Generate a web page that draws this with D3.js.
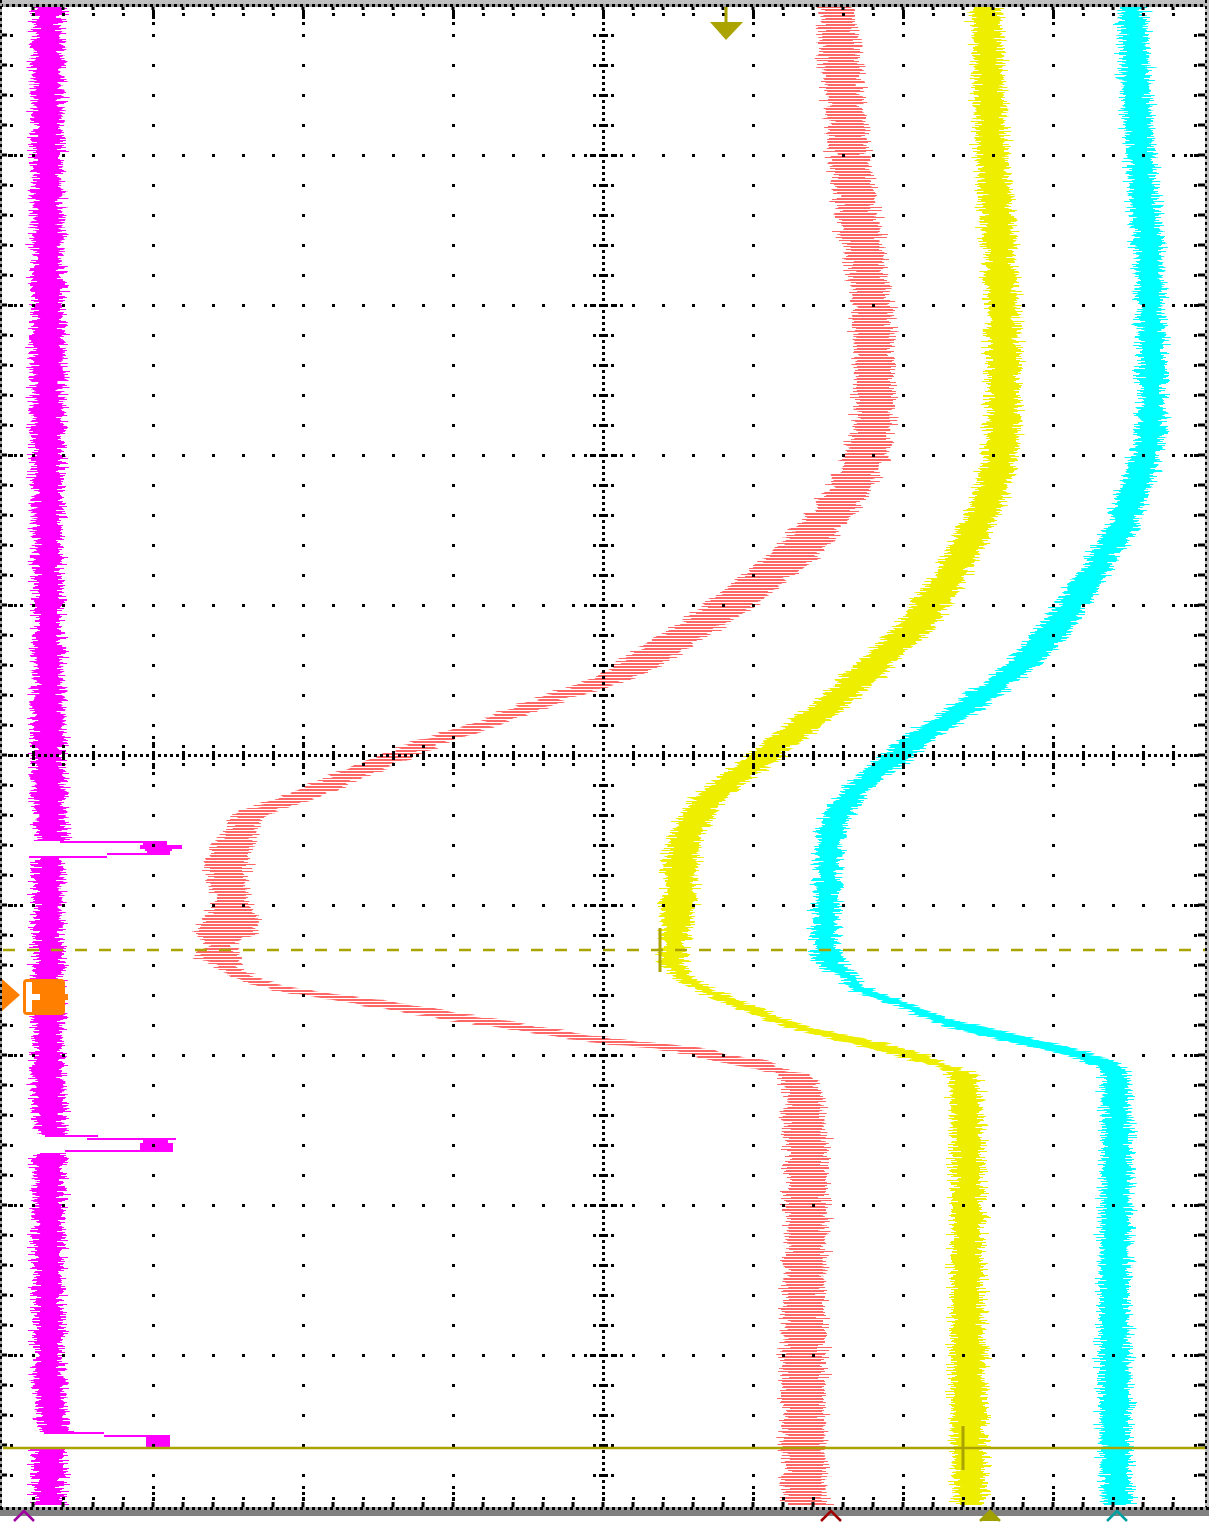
<!DOCTYPE html>
<html>
<head>
<meta charset="utf-8">
<script src="https://cdn.jsdelivr.net/npm/d3@7"></script>
<style>
html, body { margin: 0; padding: 0; background: #fff; overflow: hidden; }
</style>
</head>
<body>
<div id="scope"></div>
<script>
// record is 1500 points down the screen (10 div), level is 1200 steps across (8 div)

// salmon trace (ch2) : time, min level, max level
var salmonT  = [0, 45, 95, 145, 195, 245, 295, 345, 395, 435, 465, 495, 525, 555, 585, 615, 645, 675, 695, 715, 735, 755, 775, 795, 808, 828, 845, 865, 895, 915, 930, 940, 948, 960, 970, 980, 988, 998, 1010, 1020, 1032, 1038, 1042, 1050, 1057, 1063, 1070, 1085, 1145, 1195, 1295, 1395, 1500];
var salmonLo = [817, 819, 823, 827, 833, 842, 849, 852, 853, 847, 835, 817, 790, 759, 721, 681, 633, 585, 528, 478, 418, 366, 318, 271, 235, 222, 207, 204, 212, 200, 194, 202, 190, 209, 225, 252, 284, 347, 417, 477, 557, 592, 637, 687, 714, 747, 777, 782, 783, 783, 781, 780, 782];
var salmonHi = [849, 855, 859, 865, 871, 879, 887, 890, 890, 887, 877, 859, 837, 810, 771, 729, 681, 626, 561, 511, 451, 401, 353, 306, 269, 252, 249, 244, 245, 254, 249, 229, 235, 237, 249, 277, 327, 397, 467, 527, 602, 652, 692, 724, 767, 777, 804, 817, 823, 823, 821, 821, 823];

// yellow trace (ch3)
var yellowT  = [0, 45, 95, 145, 195, 245, 295, 345, 395, 445, 475, 505, 535, 565, 595, 625, 645, 675, 695, 715, 735, 755, 775, 795, 815, 835, 865, 895, 930, 955, 963, 975, 985, 995, 1005, 1015, 1025, 1035, 1043, 1053, 1060, 1067, 1075, 1145, 1295, 1395, 1500];
var yellowLo = [969, 971, 972, 974, 977, 981, 984, 985, 985, 982, 975, 965, 950, 934, 913, 890, 869, 837, 814, 789, 764, 739, 712, 690, 676, 667, 662, 660, 659, 657, 665, 674, 694, 714, 740, 764, 794, 835, 865, 902, 927, 944, 947, 949, 949, 949, 952];
var yellowHi = [997, 999, 1001, 1003, 1007, 1011, 1014, 1017, 1017, 1014, 1007, 997, 982, 967, 949, 927, 905, 873, 850, 825, 800, 775, 745, 721, 706, 697, 694, 692, 685, 682, 683, 694, 714, 737, 760, 784, 820, 865, 900, 930, 944, 967, 974, 979, 979, 982, 982];

// cyan trace (ch4)
var cyanT  = [0, 45, 95, 145, 195, 245, 295, 345, 395, 435, 465, 495, 525, 555, 585, 615, 645, 675, 695, 715, 735, 755, 775, 795, 815, 845, 875, 905, 935, 950, 962, 970, 980, 988, 995, 1005, 1012, 1020, 1035, 1050, 1060, 1070, 1145, 1295, 1395, 1500];
var cyanLo = [1117, 1119, 1120, 1124, 1127, 1132, 1135, 1137, 1137, 1132, 1124, 1114, 1102, 1084, 1063, 1042, 1016, 984, 956, 929, 897, 872, 850, 831, 819, 815, 814, 812, 810, 812, 817, 834, 844, 854, 877, 905, 920, 939, 997, 1062, 1092, 1099, 1100, 1097, 1097, 1100];
var cyanHi = [1142, 1145, 1147, 1150, 1154, 1159, 1160, 1162, 1162, 1159, 1152, 1142, 1132, 1112, 1094, 1074, 1050, 1015, 990, 960, 930, 905, 879, 858, 845, 839, 837, 835, 834, 839, 844, 854, 862, 877, 897, 922, 940, 974, 1037, 1092, 1117, 1125, 1127, 1125, 1127, 1127];

// magenta trace (ch1) baseline, null = trace is out on a pulse
var magentaT  = [0, 150, 300, 450, 600, 750, 820, 836, null, 852, 950, 1050, 1115, 1130, null, 1148, 1250, 1350, 1410, 1427, null, 1444, 1500];
var magentaLo = [31, 30, 29, 30, 31, 30, 33, 36, null, 31, 31, 30, 32, 35, null, 32, 31, 31, 34, 38, null, 31, 31];
var magentaHi = [58, 59, 60, 59, 59, 60, 62, 65, null, 59, 60, 59, 61, 64, null, 60, 60, 60, 63, 66, null, 60, 60];

// magenta pulses, rows of [time, duration, min level, max level]
var pulse1 = [[836, 2, 57, 164], [838, 2, 140, 164], [840, 4, 137, 179], [844, 2, 142, 169], [846, 4, 144, 167], [848, 2, 104, 167], [851, 2, 26, 104]];
var pulse2 = [[1130, 2, 42, 95], [1133, 2, 84, 173], [1135, 3, 140, 165], [1138, 7, 137, 170], [1145, 2, 62, 170]];
var pulse3 = [[1427, 2, 41, 101], [1430, 2, 101, 167], [1432, 10, 143, 167], [1442, 2, 60, 167]];

// markers
var groundLevels = [21, 828, 987, 1114];
var groundColors = ["#a000a0", "#a00000", "#a0a000", "#00a0a0"];
var trigTime = 990;      // orange trigger marker, left edge
var trigPos = 723;       // trigger position arrow at top
var cursorTimes = [945, 1443];
var cursorLevels = [657, 960];   // cursor readout ticks on ch3

var W = 1209, H = 1522;
var olive = "#aaa300";

var svg = d3.select("#scope").append("svg")
	.attr("width", W)
	.attr("height", H)
	.style("display", "block");

var x = d3.scaleLinear().domain([0, 1200]).range([3, 1203]);
var y = d3.scaleLinear().domain([0, 1500]).range([5, 1505]);

var defs = svg.append("defs");

// row by row jitter, like the scope's sample noise
var f = defs.append("filter")
	.attr("id", "jitter")
	.attr("filterUnits", "userSpaceOnUse")
	.attr("x", 0).attr("y", 0).attr("width", W).attr("height", H)
	.attr("color-interpolation-filters", "sRGB");
f.append("feTurbulence")
	.attr("type", "fractalNoise")
	.attr("baseFrequency", "0.04 0.7")
	.attr("numOctaves", 1)
	.attr("seed", 11)
	.attr("result", "n");
f.append("feColorMatrix")
	.attr("in", "n")
	.attr("type", "matrix")
	.attr("values", "1 0 0 0 0  0 0 0 0 0.5  0 0 0 0 0  0 0 0 0 1")
	.attr("result", "m");
f.append("feDisplacementMap")
	.attr("in", "SourceGraphic")
	.attr("in2", "m")
	.attr("scale", 30)
	.attr("xChannelSelector", "R")
	.attr("yChannelSelector", "G");

// salmon channel is drawn hatched
var pat = defs.append("pattern")
	.attr("id", "hatch")
	.attr("patternUnits", "userSpaceOnUse")
	.attr("width", 8).attr("height", 3);
pat.append("rect").attr("width", 8).attr("height", 2).attr("fill", "#ff6666");

var area = d3.area()
	.defined(function (d) { return d.t != null; })
	.y(function (d) { return y(d.t); })
	.x0(function (d) { return x(d.lo); })
	.x1(function (d) { return x(d.hi); })
	.curve(d3.curveMonotoneY);

var zipTrace = function (t, lo, hi) {
	return t.map(function (v, i) { return {t: v, lo: lo[i], hi: hi[i]}; });
};

var traces = svg.append("g").attr("class", "traces");

var drawTrace = function (t, lo, hi, fill) {
	traces.append("path")
		.datum(zipTrace(t, lo, hi))
		.attr("d", area)
		.attr("fill", fill)
		.attr("filter", "url(#jitter)");
};

drawTrace(magentaT, magentaLo, magentaHi, "#ff00ff");
drawTrace(salmonT, salmonLo, salmonHi, "url(#hatch)");
drawTrace(yellowT, yellowLo, yellowHi, "#eeee00");
drawTrace(cyanT, cyanLo, cyanHi, "#00ffff");

[pulse1, pulse2, pulse3].forEach(function (p) {
	traces.selectAll(null)
		.data(p)
		.enter()
		.append("rect")
			.attr("x", function (d) { return x(d[2]); })
			.attr("y", function (d) { return y(d[0]); })
			.attr("width", function (d) { return x(d[3]) - x(d[2]); })
			.attr("height", function (d) { return y(d[0] + d[1]) - y(d[0]); })
			.attr("fill", "#ff00ff");
});

// graticule dots
var grid = svg.append("g").attr("class", "grid").attr("fill", "#000");
var dots = [];
var majorX = d3.range(150, 1200, 150);
var majorY = d3.range(150, 1500, 150);

majorX.forEach(function (gx) {
	var step = gx == 600 ? 6 : 30;
	d3.range(step, 1500, step).forEach(function (t) { dots.push([gx, t]); });
	[6, 12, 18, 1482, 1488, 1494].forEach(function (t) { dots.push([gx, t]); });
});
majorY.forEach(function (gy) {
	var step = gy == 750 ? 6 : 30;
	d3.range(step, 1200, step).forEach(function (l) { dots.push([l, gy]); });
	[6, 12, 18, 1182, 1188, 1194].forEach(function (l) { dots.push([l, gy]); });
});
// cross ticks on the centre lines (not where the two centre lines meet)
d3.range(30, 1500, 30).forEach(function (t) {
	if (t == 750) return;
	[-9, -3, 3, 9].forEach(function (o) { dots.push([600 + o, t]); });
});
d3.range(30, 1200, 30).forEach(function (l) {
	if (l == 600) return;
	[-9, -3, 3, 9].forEach(function (o) { dots.push([l, 750 + o]); });
});
majorY.forEach(function (gy) {
	if (gy == 750) return;
	[-18, -12, 12, 18].forEach(function (o) { dots.push([600 + o, gy]); });
});
majorX.forEach(function (gx) {
	if (gx == 600) return;
	[-18, -12, 12, 18].forEach(function (o) { dots.push([gx, 750 + o]); });
});
// edge ticks
d3.range(30, 1500, 30).forEach(function (t) {
	dots.push([8, t]); dots.push([1192, t]);
});
d3.range(30, 1200, 30).forEach(function (l) {
	dots.push([l, 9]); dots.push([l, 1493]);
});

grid.selectAll("rect")
	.data(dots)
	.enter()
	.append("rect")
		.attr("x", function (d) { return Math.round(x(d[0])) - 1; })
		.attr("y", function (d) { return Math.round(y(d[1])) - 1; })
		.attr("width", 3)
		.attr("height", 3);

// short edge dashes
var edge = svg.append("g").attr("stroke", "#000").attr("stroke-width", 3);
d3.range(30, 1500, 30).forEach(function (t) {
	edge.append("line").attr("x1", 0).attr("x2", 7).attr("y1", y(t)).attr("y2", y(t));
	edge.append("line").attr("x1", W - 11).attr("x2", W - 4).attr("y1", y(t)).attr("y2", y(t));
});
d3.range(30, 1200, 30).forEach(function (l) {
	edge.append("line").attr("x1", x(l)).attr("x2", x(l)).attr("y1", 4).attr("y2", 10);
	edge.append("line").attr("x1", x(l)).attr("x2", x(l)).attr("y1", 1502).attr("y2", 1509);
});

// frame
svg.append("rect").attr("x", 0).attr("y", 0).attr("width", W).attr("height", 4).attr("fill", "#c0c0c0");
svg.append("rect").attr("x", 0).attr("y", 4).attr("width", W).attr("height", 3).attr("fill", "#a0a0a0");
svg.append("line").attr("x1", 0).attr("x2", W).attr("y1", 5.5).attr("y2", 5.5)
	.attr("stroke", "#000").attr("stroke-width", 3).attr("stroke-dasharray", "3,3");
svg.append("rect").attr("x", 0).attr("y", 0).attr("width", 2).attr("height", 1510).attr("fill", "#a0a0a0");
svg.append("line").attr("x1", 1).attr("x2", 1).attr("y1", 0).attr("y2", 1510)
	.attr("stroke", "#000").attr("stroke-width", 2).attr("stroke-dasharray", "3,3");
svg.append("rect").attr("x", W - 4).attr("y", 0).attr("width", 4).attr("height", 1510).attr("fill", "#c0c0c0");
svg.append("line").attr("x1", W - 3).attr("x2", W - 3).attr("y1", 0).attr("y2", 1510)
	.attr("stroke", "#000").attr("stroke-width", 2).attr("stroke-dasharray", "3,3");
svg.append("rect").attr("x", 0).attr("y", 1507).attr("width", W).attr("height", 3).attr("fill", "#a0a0a0");
svg.append("line").attr("x1", 0).attr("x2", W).attr("y1", 1508.5).attr("y2", 1508.5)
	.attr("stroke", "#000").attr("stroke-width", 3).attr("stroke-dasharray", "3,3");
svg.append("rect").attr("x", 0).attr("y", 1510).attr("width", W).attr("height", 6).attr("fill", "#808080");

// cursors
svg.append("line")
	.attr("x1", x(0)).attr("x2", W - 4)
	.attr("y1", y(cursorTimes[0])).attr("y2", y(cursorTimes[0]))
	.attr("stroke", olive).attr("stroke-width", 2.7).attr("stroke-dasharray", "12,12");
svg.append("line")
	.attr("x1", x(0)).attr("x2", W - 4)
	.attr("y1", y(cursorTimes[1])).attr("y2", y(cursorTimes[1]))
	.attr("stroke", olive).attr("stroke-width", 2.7);
cursorTimes.forEach(function (t, i) {
	svg.append("line")
		.attr("x1", x(cursorLevels[i])).attr("x2", x(cursorLevels[i]))
		.attr("y1", y(t) - 22).attr("y2", y(t) + 22)
		.attr("stroke", olive).attr("stroke-width", 3);
});

// trigger position arrow
var tx = x(trigPos);
svg.append("line").attr("x1", tx).attr("x2", tx).attr("y1", 7).attr("y2", 24)
	.attr("stroke", olive).attr("stroke-width", 3);
svg.append("path")
	.attr("d", "M" + (tx - 16) + ",22 L" + (tx + 17) + ",22 L" + tx + ",40 Z")
	.attr("fill", olive);

// trigger level marker
var ty = y(trigTime);
svg.append("path")
	.attr("d", "M2," + (ty - 16) + " L20," + ty + " L2," + (ty + 16) + " Z")
	.attr("fill", "#ff7f00");
svg.append("rect")
	.attr("x", 23).attr("y", ty - 16)
	.attr("width", 42).attr("height", 36)
	.attr("rx", 4)
	.attr("fill", "#ff7f00");
svg.append("rect")
	.attr("x", 64).attr("y", ty - 1)
	.attr("width", 4).attr("height", 6)
	.attr("fill", "#ff7f00");
svg.append("path")
	.attr("d", "M26," + (ty - 13) + " V" + (ty + 17) + " H32 V" + (ty + 5) + " H40 V" + (ty - 1) + " H32 V" + (ty - 13) + " Z")
	.attr("fill", "#fff");

// ground level chevrons at the bottom
svg.selectAll(".gnd")
	.data(groundLevels)
	.enter()
	.append("path")
		.attr("class", "gnd")
		.attr("d", function (d) {
			var gx = x(d);
			return "M" + (gx - 10) + ",1521 L" + gx + ",1511 L" + (gx + 10) + ",1521";
		})
		.attr("fill", function (d, i) { return i == 2 ? groundColors[i] : "none"; })
		.attr("stroke", function (d, i) { return groundColors[i]; })
		.attr("stroke-width", 2.5);
</script>
</body>
</html>
